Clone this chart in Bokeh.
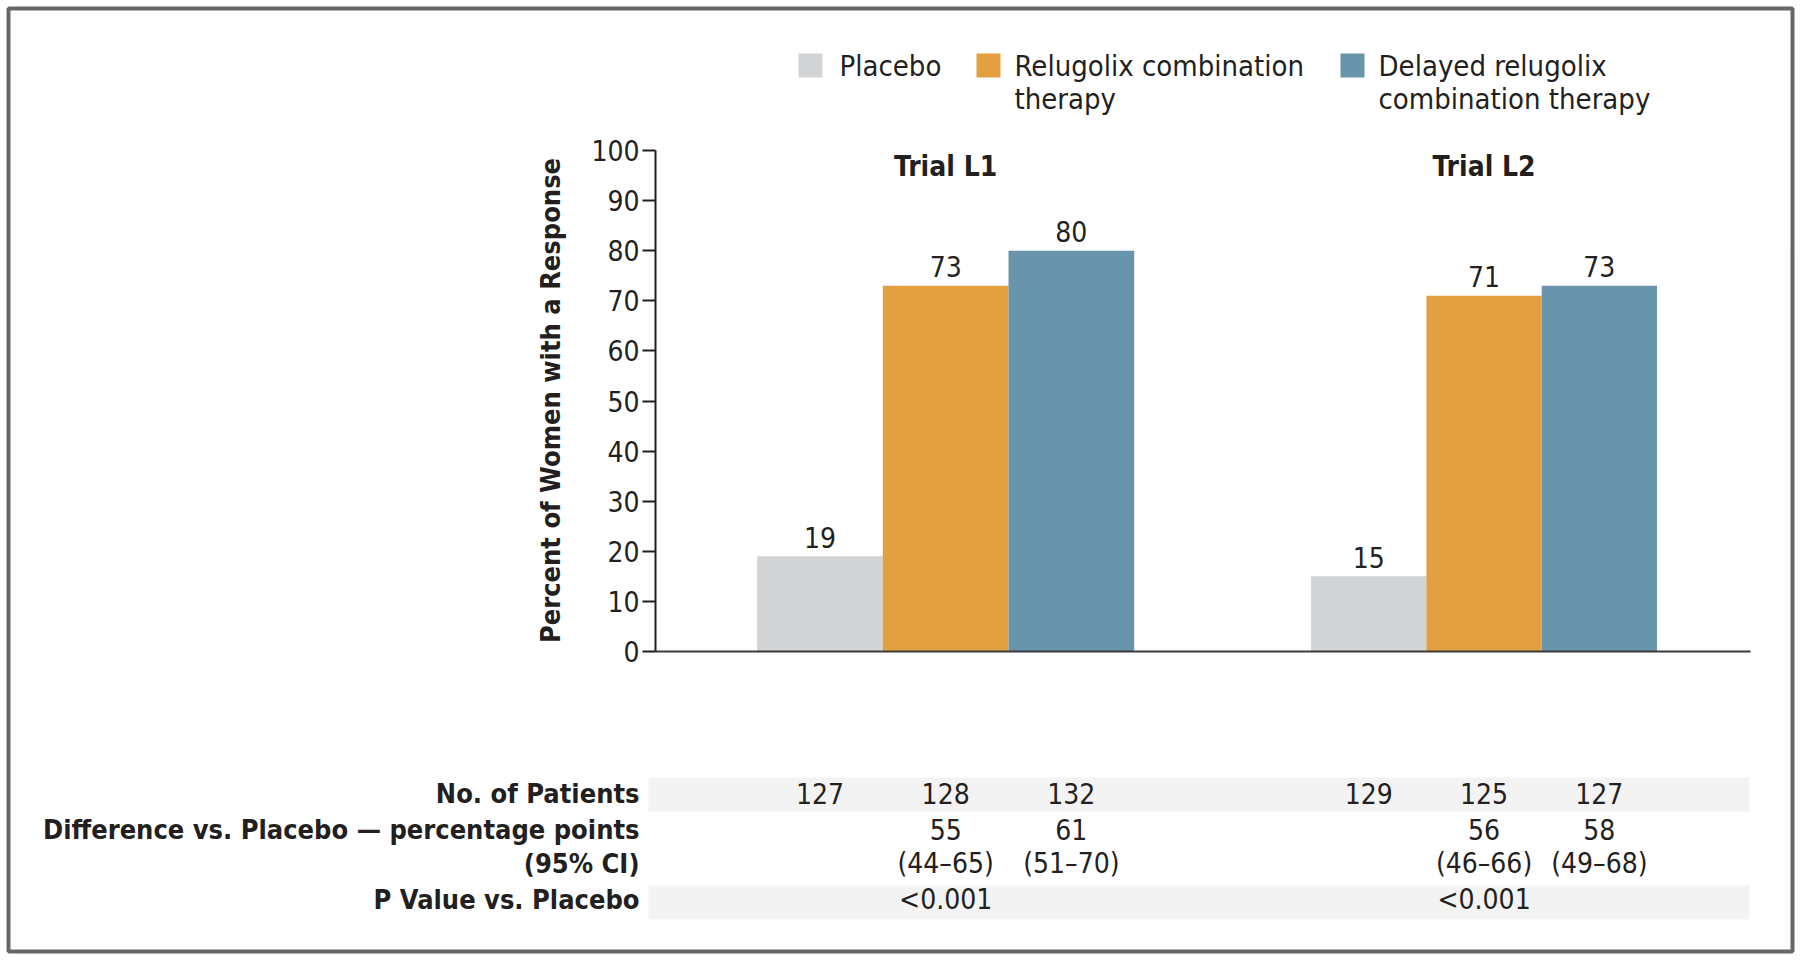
import math
from bokeh.plotting import figure
from bokeh.models import Range1d, FixedTicker, ColumnDataSource
from bokeh.core.properties import value
from bokeh.embed import file_html
from bokeh.resources import INLINE

# ---------------- data ----------------
trials = ["Trial L1", "Trial L2"]
series = ["Placebo", "Relugolix combination therapy", "Delayed relugolix combination therapy"]
legend_lines = [["Placebo"], ["Relugolix combination", "therapy"], ["Delayed relugolix", "combination therapy"]]
placebo = [19, 15]
relugolix = [73, 71]
delayed = [80, 73]
n_patients = [["127", "128", "132"], ["129", "125", "127"]]
diff_pts = [["", "55", "61"], ["", "56", "58"]]
diff_ci = [["", "(44–65)", "(51–70)"], ["", "(46–66)", "(49–68)"]]
p_values = ["<0.001", "<0.001"]
row_labels = ["No. of Patients", "Difference vs. Placebo — percentage points", "(95% CI)", "P Value vs. Placebo"]
y_ticks = list(range(0, 101, 10))
y_label = "Percent of Women with a Response"
colors = ["#d1d3d4", "#e3a040", "#6995ac"]

# ---------------- layout (page pixels) ----------------
FIG_W, FIG_H = 1800, 961
AXIS_X = 655
Y0_PAGE, Y100_PAGE = 651, 150
PPU = (Y0_PAGE - Y100_PAGE) / 100.0


def Y(py):
    return (Y0_PAGE - py) / PPU


FONT = "'Liberation Sans Narrow', 'DejaVu Sans Condensed', Lato, sans-serif"
INK = "#231f20"

GROUP_LEFT = [756.6, 1310.6]
BAR_W = [125.7, 115.3]

p = figure(width=FIG_W, height=FIG_H, output_backend="svg", toolbar_location=None,
           x_range=Range1d(0, FIG_W), y_range=Range1d(Y(FIG_H), Y(0)),
           x_axis_location=None, y_axis_location="left", title=None,
           min_border_left=0, min_border_right=0, min_border_top=0, min_border_bottom=0)
p.outline_line_color = None
p.xgrid.visible = False
p.ygrid.visible = False
p.background_fill_color = "white"
p.border_fill_color = "white"

ax = p.yaxis[0]
ax.fixed_location = AXIS_X
ax.ticker = FixedTicker(ticks=y_ticks)
ax.bounds = (0, 100)
ax.major_tick_out = 13
ax.major_tick_in = 0
ax.minor_tick_out = 0
ax.minor_tick_in = 0
ax.axis_line_width = 2
ax.major_tick_line_width = 2
ax.axis_line_color = INK
ax.major_tick_line_color = INK
ax.major_label_text_font = FONT
ax.major_label_text_font_size = "28px"
ax.major_label_text_color = INK
ax.major_label_standoff = 3

# outer frame border
p.quad(left=[8], right=[1792], top=[Y(8)], bottom=[Y(951)], fill_color=None,
       line_color="#666666", line_width=4)

# table bands (under the text)
p.quad(left=[648, 648], right=[1749, 1749], top=[Y(777), Y(885)], bottom=[Y(811), Y(919)],
       fill_color="#f3f3f3", line_color=None)

# bars
vals = [placebo, relugolix, delayed]
bx, bw, bt, bc, bl = [], [], [], [], []
for g in range(len(trials)):
    for s in range(len(series)):
        bx.append(GROUP_LEFT[g] + (s + 0.5) * BAR_W[g])
        bw.append(BAR_W[g])
        bt.append(vals[s][g])
        bc.append(colors[s])
        bl.append(str(vals[s][g]))
src = ColumnDataSource(dict(x=bx, w=bw, top=bt, color=bc, lab=bl))
p.vbar(x="x", width="w", top="top", bottom=0, fill_color="color", line_color=None, source=src)
p.text(x="x", y="top", text="lab", source=src, y_offset=-19, text_align="center",
       text_baseline="middle", text_font=value(FONT), text_font_size="28px", text_color=INK)

# baseline
p.segment(x0=[AXIS_X], x1=[1750], y0=[0], y1=[0], line_color="#3a3a3a", line_width=2)

# trial titles
centers = [GROUP_LEFT[g] + 1.5 * BAR_W[g] for g in range(len(trials))]
p.text(x=centers, y=[Y(166)] * 2, text=trials, text_align="center", text_baseline="middle",
       text_font=value(FONT), text_font_size="28px", text_font_style="bold", text_color=INK)

# legend
SW_X = [798, 976, 1340]
TX_X = [839, 1014, 1378]
p.quad(left=SW_X, right=[x + 24 for x in SW_X], top=[Y(53)] * 3, bottom=[Y(77)] * 3,
       fill_color=colors, line_color=None)
lx, ly, lt = [], [], []
for i, lines in enumerate(legend_lines):
    for j, t in enumerate(lines):
        lx.append(TX_X[i]); ly.append(Y(65.5 + 33 * j)); lt.append(t)
p.text(x=lx, y=ly, text=lt, text_align="left", text_baseline="middle",
       text_font=value(FONT), text_font_size="29px", text_color=INK)

# axis label
p.text(x=[549.5], y=[Y(400)], text=[y_label], angle=math.pi / 2, text_align="center",
       text_baseline="middle", text_font=value(FONT), text_font_size="27px",
       text_font_style="bold", text_color=INK)

# table
ROW_Y = [793, 829, 863, 899]
p.text(x=[639] * 4, y=[Y(v) for v in ROW_Y], text=row_labels, text_align="right",
       text_baseline="middle", text_font=value(FONT), text_font_size="27px",
       text_font_style="bold", text_color=INK)

tx, ty, tt = [], [], []
for g in range(len(trials)):
    for s in range(len(series)):
        cx = GROUP_LEFT[g] + (s + 0.5) * BAR_W[g]
        for r, arr in enumerate([n_patients, diff_pts, diff_ci]):
            if arr[g][s]:
                tx.append(cx); ty.append(Y(ROW_Y[r])); tt.append(arr[g][s])
    tx.append(GROUP_LEFT[g] + 1.5 * BAR_W[g]); ty.append(Y(ROW_Y[3])); tt.append(p_values[g])
p.text(x=tx, y=ty, text=tt, text_align="center", text_baseline="middle",
       text_font=value(FONT), text_font_size="28px", text_color=INK)

open("out.html", "w").write(file_html(p, INLINE))
